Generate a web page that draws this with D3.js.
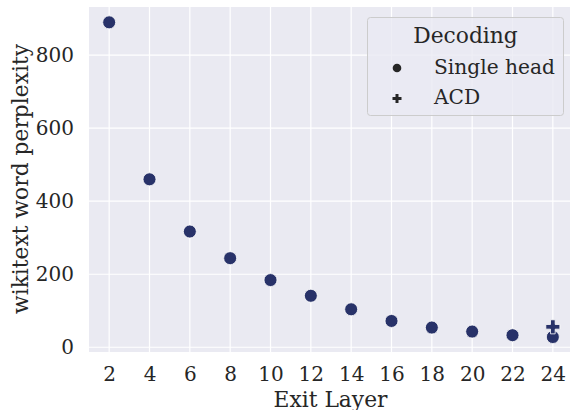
<!DOCTYPE html>
<html><head><meta charset="utf-8">
<script src="https://cdn.jsdelivr.net/npm/d3@7"></script>
<style>body{margin:0;background:#fff}svg{display:block}text{font-family:"DejaVu Serif",serif;fill:#262626}</style>
</head><body><svg id="c" width="570" height="410"></svg>
<script>
const layers = [2,4,6,8,10,12,14,16,18,20,22,24];
const singleHead = [890,460,317,244,184,141,104,72,54,43,33,28];
const acdLayers = [24];
const acdValues = [56];
const xTicks = [2,4,6,8,10,12,14,16,18,20,22,24];
const yTicks = [0,200,400,600,800];
const legendLabels = ["Single head","ACD"];

const svg = d3.select("#c");
const L = 89, R = 573, T = 7, B = 352;
const x = d3.scaleLinear().domain([1,25]).range([L,R]);
const y = d3.scaleLinear().domain([-13,932]).range([B,T]);
const color = "#283269";

svg.append("rect").attr("x",L).attr("y",T).attr("width",R-L).attr("height",B-T).attr("fill","#EAEAF2");
const g = svg.append("g");
g.selectAll(".gx").data(xTicks).join("line").attr("x1",d=>x(d)).attr("x2",d=>x(d)).attr("y1",T).attr("y2",B).attr("stroke","#fff").attr("stroke-width",1.2);
g.selectAll(".gy").data(yTicks).join("line").attr("y1",d=>y(d)).attr("y2",d=>y(d)).attr("x1",L).attr("x2",R).attr("stroke","#fff").attr("stroke-width",1.2);

const xAxis = d3.axisBottom(x).tickValues(xTicks).tickSize(0).tickPadding(12);
const xa = svg.append("g").attr("transform",`translate(0,${B})`).call(xAxis);
xa.select(".domain").remove();
xa.selectAll("text").style("font-size","20px").attr("fill","#262626").attr("y",29).attr("dy",null);
const yAxis = d3.axisLeft(y).tickValues(yTicks).tickSize(0).tickPadding(15);
const ya = svg.append("g").attr("transform",`translate(${L},0)`).call(yAxis);
ya.select(".domain").remove();
ya.selectAll("text").style("font-size","20px").attr("fill","#262626");

svg.append("text").attr("x",330.5).attr("y",406.5).attr("text-anchor","middle").style("font-size","21.8px").text("Exit Layer");
svg.append("text").attr("transform",`translate(28,179) rotate(-90)`).attr("text-anchor","middle").style("font-size","21.8px").text("wikitext word perplexity");

const data = layers.map((l,i)=>({l,v:singleHead[i]}));
svg.append("g").selectAll("circle").data(data).join("circle")
  .attr("cx",d=>x(d.l)).attr("cy",d=>y(d.v)).attr("r",6.5)
  .attr("fill",color).attr("stroke","#fff").attr("stroke-width",0.8);

const cross = d3.symbol().type(d3.symbolCross).size(110);
svg.append("g").selectAll("path").data(acdLayers.map((l,i)=>({l,v:acdValues[i]}))).join("path")
  .attr("transform",d=>`translate(${x(d.l)},${y(d.v)})`).attr("d",cross)
  .attr("fill",color).attr("stroke","#fff").attr("stroke-width",0.8);

// legend
const lg = svg.append("g");
lg.append("rect").attr("x",367.5).attr("y",17.5).attr("width",196).attr("height",98).attr("rx",3)
  .attr("fill","#EAEAF2").attr("fill-opacity",0.8).attr("stroke","#cccccc").attr("stroke-width",1);
lg.append("text").attr("x",465.5).attr("y",43).attr("text-anchor","middle").style("font-size","21.8px").text("Decoding");
lg.append("circle").attr("cx",397).attr("cy",68).attr("r",4.3).attr("fill","#262626");
lg.append("path").attr("transform","translate(397,98.5)").attr("d",d3.symbol().type(d3.symbolCross).size(45)).attr("fill","#262626");
legendLabels.forEach((t,i)=>{
  lg.append("text").attr("x",434).attr("y",74+i*30).style("font-size","20.2px").text(t);
});
</script></body></html>
